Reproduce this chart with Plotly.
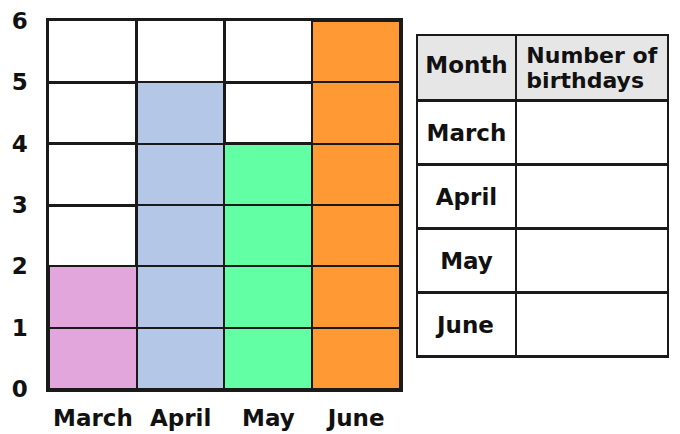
import plotly.graph_objects as go

months = ["March", "April", "May", "June"]
birthdays = [2, 5, 4, 6]
month_colors = ["#E2A6DC", "#B4C7E7", "#63FFA5", "#FF9933"]
y_ticks = [0, 1, 2, 3, 4, 5, 6]

table_header = ["Month", "Number of<br>birthdays"]
table_months = months
table_counts = ["", "", "", ""]

FONT = "DejaVu Sans"
LINE = "#1a1a1a"
TXT = 23


def big(s, size=TXT):
    return f"<span style='font-size:{size}px'><b>{s}</b></span>"


def pushed(s):
    # table text sits at the top of a cell, so a tiny blank first line
    # (spaced by the column's base font size) pushes it down
    return "<span style='font-size:1px'>&nbsp;</span><br>" + big(s)


fig = go.Figure()

# one stacked unit block per birthday so every square gets its own border
for level in range(max(birthdays)):
    fig.add_trace(go.Bar(
        x=months,
        y=[1 if c > level else None for c in birthdays],
        marker_color=month_colors,
        marker_line=dict(color=LINE, width=2.5),
        width=1,
        showlegend=False,
        hoverinfo="skip",
    ))

fig.add_trace(go.Table(
    domain=dict(x=[0.5945, 1.0], y=[0.0, 0.962]),
    columnwidth=[99, 152],
    header=dict(
        values=[pushed(table_header[0]),
                "<br>".join(big(p, 22) for p in table_header[1].split("<br>"))],
        fill_color="#E6E6E6",
        line=dict(color=LINE, width=2.5),
        font=dict(family=FONT, size=[22, 19], color="#111111"),
        align="center",
        height=64,
    ),
    cells=dict(
        values=[[pushed(m) for m in table_months], table_counts],
        fill_color="white",
        line=dict(color=LINE, width=2.5),
        font=dict(family=FONT, size=24, color="#111111"),
        align="center",
        height=64,
    ),
))

# the page adds an 8px body margin, so the figure is 8px smaller than the window
fig.update_layout(
    width=672, height=426,
    margin=dict(l=41, r=12, t=13, b=45),
    paper_bgcolor="white", plot_bgcolor="white",
    barmode="stack", bargap=0,
    font=dict(family=FONT, size=TXT, color="#111111"),
    xaxis=dict(
        domain=[0, 0.567],
        range=[-0.5, 3.5],
        tickson="boundaries",
        showgrid=True, gridcolor=LINE, gridwidth=2.5,
        showline=True, linecolor=LINE, linewidth=2.5, mirror=True,
        ticks="", tickangle=0, ticklabelstandoff=7,
        tickfont=dict(family=FONT, size=TXT, weight="bold"),
        automargin=False, fixedrange=True,
    ),
    yaxis=dict(
        range=[0, 6],
        tickvals=y_ticks,
        showgrid=True, gridcolor=LINE, gridwidth=2.5,
        zeroline=False,
        showline=True, linecolor=LINE, linewidth=2.5, mirror=True,
        ticks="", ticklabelstandoff=14,
        tickfont=dict(family=FONT, size=TXT, weight="bold"),
        automargin=False, fixedrange=True,
    ),
)

fig.write_html("out.html")
